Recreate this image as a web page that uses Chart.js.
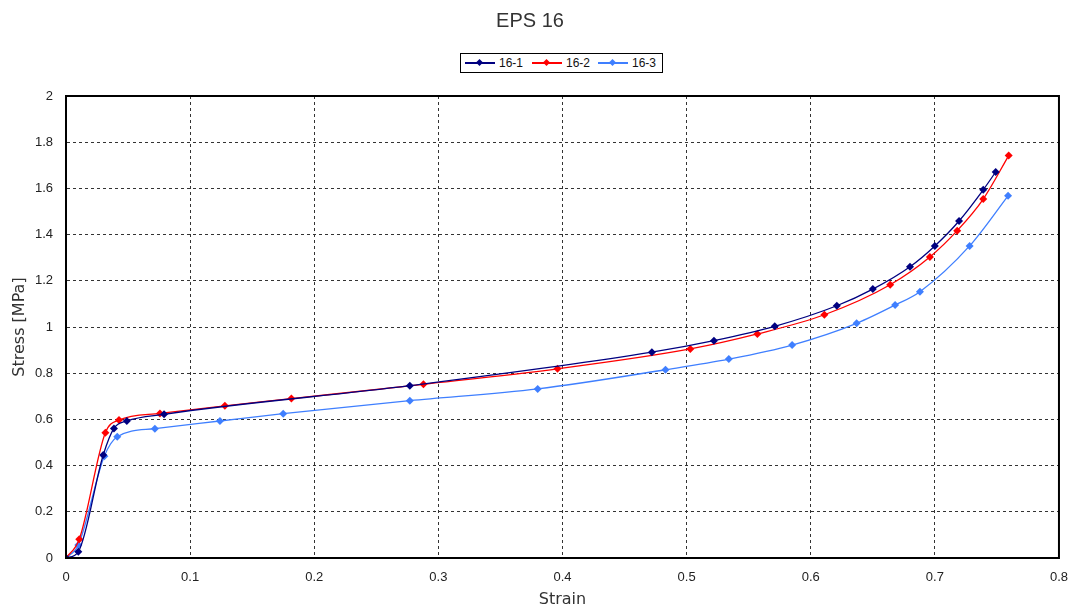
<!DOCTYPE html>
<html>
<head>
<meta charset="utf-8">
<script src="https://cdn.jsdelivr.net/npm/chart.js@4/dist/chart.umd.min.js"></script>
<style>
  html, body { margin: 0; padding: 0; background: #fff; }
  #wrap { position: relative; width: 1080px; height: 612px; }
  #legend {
    position: absolute; left: 460px; top: 53px; width: 201px; height: 18px;
    border: 1px solid #000; background: #fff; box-sizing: content-box;
    font-family: "Liberation Sans", "DejaVu Sans", sans-serif; font-size: 12px; color: #111;
  }
  .item { position: absolute; top: 0; height: 18px; }
  .ln { position: absolute; top: 8px; height: 1.5px; width: 30px; }
  .dm { position: absolute; top: 5.5px; left: 12px; width: 5px; height: 5px; transform: rotate(45deg); }
  .tx { position: absolute; top: 2px; white-space: nowrap; }
</style>
</head>
<body>
<div id="wrap">
  <canvas id="c" width="1080" height="612"></canvas>
  <div id="legend"></div>
</div>
<script>
// ---- data ----
const seriesNames = ['16-1', '16-2', '16-3'];
const strain1 = [0, 0.0099, 0.030, 0.0386, 0.049, 0.079, 0.277, 0.472, 0.522, 0.571, 0.621, 0.650, 0.680, 0.700, 0.7195, 0.739, 0.749];
const stress1 = [0, 0.027, 0.446, 0.561, 0.593, 0.622, 0.746, 0.891, 0.941, 1.003, 1.092, 1.164, 1.261, 1.351, 1.459, 1.594, 1.671];
const strain2 = [0, 0.0107, 0.0317, 0.0427, 0.0757, 0.128, 0.1816, 0.288, 0.396, 0.503, 0.557, 0.611, 0.664, 0.696, 0.718, 0.739, 0.7595];
const stress2 = [0, 0.081, 0.542, 0.597, 0.626, 0.659, 0.690, 0.752, 0.819, 0.905, 0.970, 1.053, 1.183, 1.303, 1.417, 1.554, 1.742];
const strain3 = [0, 0.0099, 0.0309, 0.0413, 0.0716, 0.124, 0.175, 0.277, 0.380, 0.483, 0.534, 0.585, 0.637, 0.668, 0.688, 0.728, 0.759];
const stress3 = [0, 0.056, 0.441, 0.525, 0.560, 0.593, 0.625, 0.681, 0.732, 0.815, 0.861, 0.922, 1.016, 1.095, 1.153, 1.351, 1.568];
const xTicks = [0, 0.1, 0.2, 0.3, 0.4, 0.5, 0.6, 0.7, 0.8];
const yTicks = [0, 0.2, 0.4, 0.6, 0.8, 1, 1.2, 1.4, 1.6, 1.8, 2];
const colors = ['#000080', '#ff0000', '#3f7fff'];

const pairs = (xs, ys) => xs.map((x, i) => ({ x: x, y: ys[i] }));
const allData = [pairs(strain1, stress1), pairs(strain2, stress2), pairs(strain3, stress3)];

const datasets = allData.map((d, i) => ({
  label: seriesNames[i],
  data: d,
  borderColor: colors[i],
  backgroundColor: colors[i],
  borderWidth: 1.3,
  pointStyle: 'rectRot',
  pointRadius: 4,
  pointHoverRadius: 4,
  pointBorderWidth: 0,
  cubicInterpolationMode: 'monotone',
  fill: false
}));

const framePlugin = {
  id: 'frame',
  afterDatasetsDraw(chart) {
    const { ctx, chartArea: a } = chart;
    ctx.save();
    ctx.strokeStyle = '#000';
    ctx.lineWidth = 2;
    ctx.strokeRect(a.left, a.top, a.right - a.left, a.bottom - a.top);
    ctx.restore();
  }
};

const tickFont = { family: '"Liberation Sans Narrow", "Liberation Sans", "DejaVu Sans", sans-serif', size: 13 };
const titleFont = { family: '"DejaVu Sans", "Liberation Sans", sans-serif', size: 16 };

new Chart(document.getElementById('c'), {
  type: 'line',
  data: { datasets: datasets },
  plugins: [framePlugin],
  options: {
    responsive: false,
    animation: false,
    layout: { padding: { left: 0, right: 20, top: 0, bottom: 0 } },
    plugins: {
      legend: { display: false },
      tooltip: { enabled: false },
      title: {
        display: true, text: 'EPS 16', color: '#333',
        font: { family: '"Liberation Sans", "DejaVu Sans", sans-serif', size: 20, weight: 'normal' },
        padding: { top: 9, bottom: 63 }
      }
    },
    scales: {
      x: {
        type: 'linear', min: 0, max: 0.8,
        afterBuildTicks: s => { s.ticks = xTicks.map(v => ({ value: v })); },
        afterFit: s => { s.height = 54; },
        ticks: { color: '#222', font: tickFont, padding: 12, maxRotation: 0,
                 callback: v => String(Number(v.toFixed(1))) },
        grid: { color: '#333', lineWidth: 1, drawTicks: false, tickLength: 0 },
        border: { display: true, color: '#000', width: 2, dash: [3, 3] },
        title: { display: true, text: 'Strain', color: '#333', font: titleFont, padding: { top: 0, bottom: 3 } }
      },
      y: {
        type: 'linear', min: 0, max: 2,
        afterBuildTicks: s => { s.ticks = yTicks.map(v => ({ value: v })); },
        afterFit: s => { s.width = 66; },
        ticks: { color: '#222', font: tickFont, padding: 13,
                 callback: v => String(Number(v.toFixed(1))) },
        grid: { color: '#333', lineWidth: 1, drawTicks: false, tickLength: 0 },
        border: { display: true, color: '#000', width: 2, dash: [3, 3] },
        title: { display: true, text: 'Stress [MPa]', color: '#333', font: titleFont, padding: { top: 10, bottom: 0 } }
      }
    }
  }
});

// HTML legend built from the same series arrays
const legend = document.getElementById('legend');
const itemLefts = [4, 71, 137];
seriesNames.forEach((name, i) => {
  const it = document.createElement('div');
  it.className = 'item';
  it.style.left = itemLefts[i] + 'px';
  it.innerHTML = '<div class="ln" style="background:' + colors[i] + '"></div>' +
    '<div class="dm" style="background:' + colors[i] + '"></div>' +
    '<div class="tx" style="left:34px">' + name + '</div>';
  legend.appendChild(it);
});
</script>
</body>
</html>
